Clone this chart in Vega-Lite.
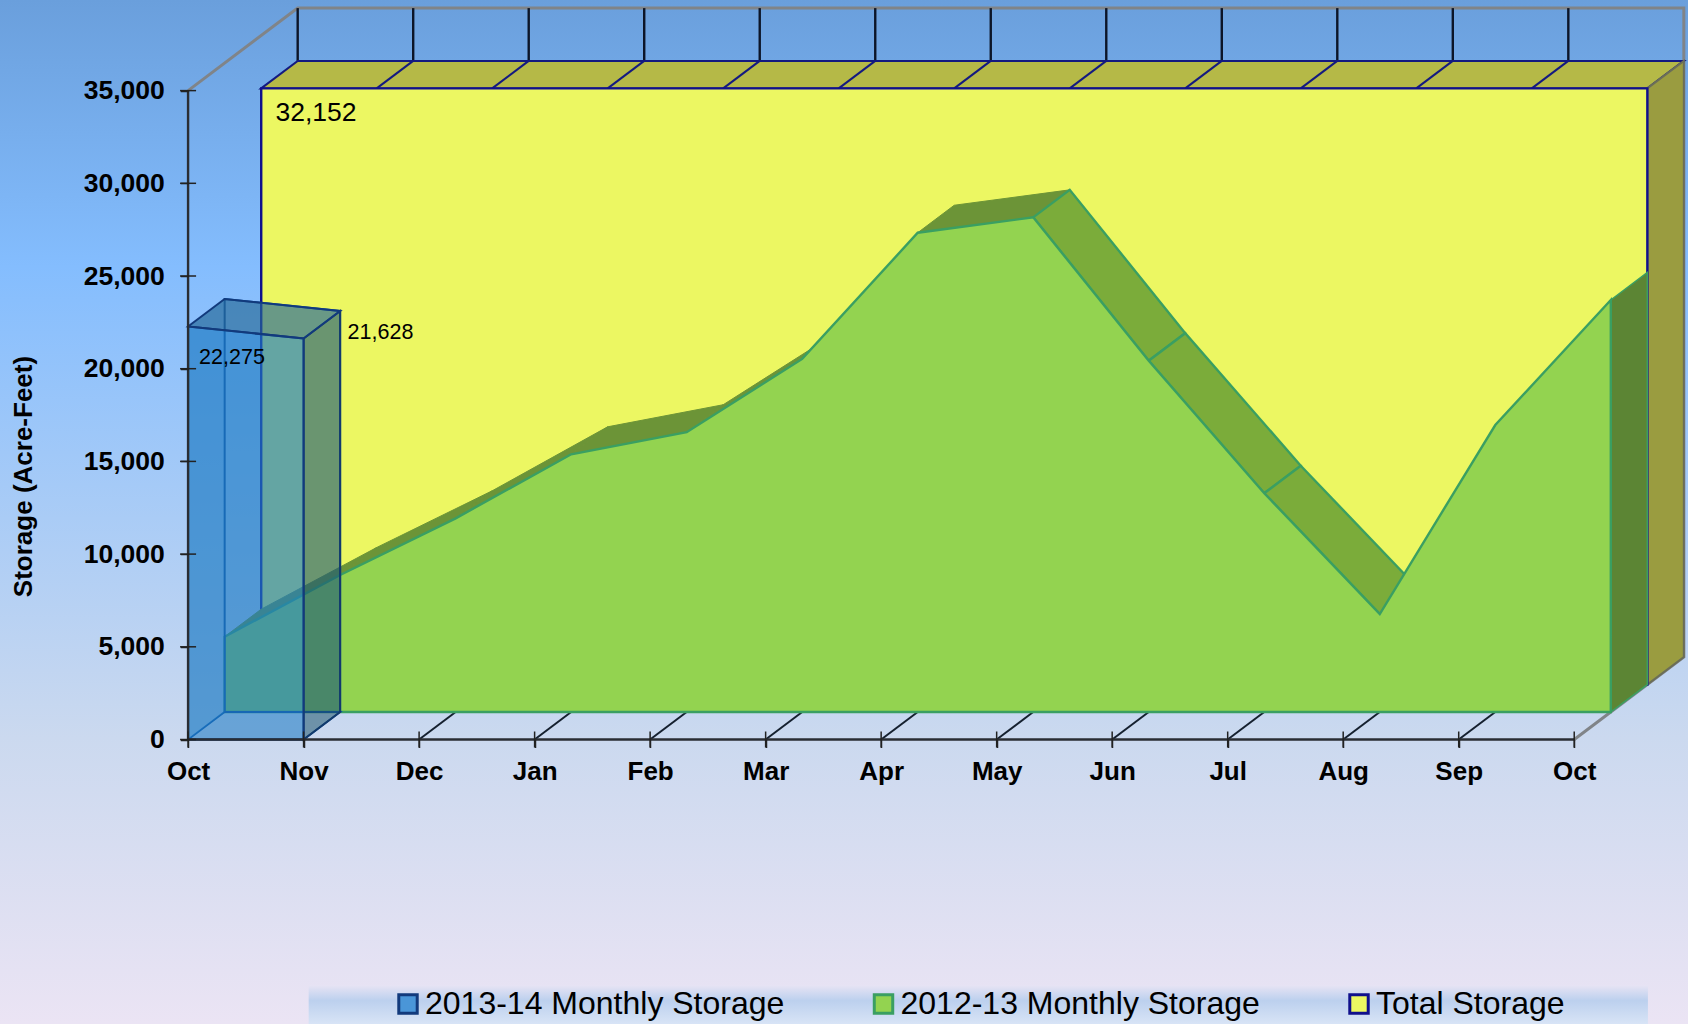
{"$schema":"https://vega.github.io/schema/vega-lite/v6.json","width":1690,"height":1024,"padding":0,"autosize":{"type":"fit","contains":"padding"},
"view":{"stroke":null,"fill":{"gradient":"linear","x1":0,"y1":0,"x2":0,"y2":1,"stops":[{"offset":0,"color":"#6a9fdc"},{"offset":0.26,"color":"#84bdfe"},{"offset":0.72,"color":"#cbd9ef"},{"offset":1,"color":"#ebe4f4"}]}},
"config":{"font":"Liberation Sans"},
"datasets":{
"ridgeUp":[
{"poly":"s0","k":0,"month":0.3163,"storage":5544.3},{"poly":"s0","k":1,"month":1.3163,"storage":8872.3},{"poly":"s0","k":2,"month":1.6326,"storage":10355.6},{"poly":"s0","k":3,"month":0.6326,"storage":7027.6},
{"poly":"s1","k":0,"month":1.3163,"storage":8872.3},{"poly":"s1","k":1,"month":2.3163,"storage":11930.3},{"poly":"s1","k":2,"month":2.6326,"storage":13413.6},{"poly":"s1","k":3,"month":1.6326,"storage":10355.6},
{"poly":"s2","k":0,"month":2.3163,"storage":11930.3},{"poly":"s2","k":1,"month":3.3163,"storage":15383.3},{"poly":"s2","k":2,"month":3.6326,"storage":16866.6},{"poly":"s2","k":3,"month":2.6326,"storage":13413.6},
{"poly":"s3","k":0,"month":3.3163,"storage":15383.3},{"poly":"s3","k":1,"month":4.3163,"storage":16573.3},{"poly":"s3","k":2,"month":4.6326,"storage":18056.6},{"poly":"s3","k":3,"month":3.6326,"storage":16866.6},
{"poly":"s4","k":0,"month":4.3163,"storage":16573.3},{"poly":"s4","k":1,"month":5.3163,"storage":20528.3},{"poly":"s4","k":2,"month":5.6326,"storage":22011.6},{"poly":"s4","k":3,"month":4.6326,"storage":18056.6},
{"poly":"s6","k":0,"month":6.3163,"storage":27333.3},{"poly":"s6","k":1,"month":7.3163,"storage":28163.3},{"poly":"s6","k":2,"month":7.6326,"storage":29646.6},{"poly":"s6","k":3,"month":6.6326,"storage":28816.6}],
"ridgeDown":[
{"poly":"s7","k":0,"month":7.3163,"storage":28163.3},{"poly":"s7","k":1,"month":8.3163,"storage":20433.3},{"poly":"s7","k":2,"month":8.6326,"storage":21916.6},{"poly":"s7","k":3,"month":7.6326,"storage":29646.6},
{"poly":"s8","k":0,"month":8.3163,"storage":20433.3},{"poly":"s8","k":1,"month":9.3163,"storage":13283.3},{"poly":"s8","k":2,"month":9.6326,"storage":14766.6},{"poly":"s8","k":3,"month":8.6326,"storage":21916.6},
{"poly":"s9","k":0,"month":9.3163,"storage":13283.3},{"poly":"s9","k":1,"month":10.3163,"storage":6769.3},{"poly":"s9","k":2,"month":10.6326,"storage":8252.6},{"poly":"s9","k":3,"month":9.6326,"storage":14766.6}],
"endCap":[{"poly":"c","k":0,"month":12.3163,"storage":23705.3},{"poly":"c","k":1,"month":12.6326,"storage":25188.6},{"poly":"c","k":2,"month":12.6326,"storage":2966.6},{"poly":"c","k":3,"month":12.3163,"storage":1483.3}],
"topFace":[{"poly":"t","k":0,"month":0.6326,"storage":35118.6},{"poly":"t","k":1,"month":0.9489,"storage":36601.9},{"poly":"t","k":2,"month":12.9489,"storage":36601.9},{"poly":"t","k":3,"month":12.6326,"storage":35118.6}],
"sideFace":[{"poly":"r","k":0,"month":12.6326,"storage":35118.6},{"poly":"r","k":1,"month":12.9489,"storage":36601.9},{"poly":"r","k":2,"month":12.9489,"storage":4449.9},{"poly":"r","k":3,"month":12.6326,"storage":2966.6}],
"topDiag":[
{"poly":"1","k":0,"month":1.6326,"storage":35118.6},{"poly":"1","k":1,"month":1.9489,"storage":36601.9},{"poly":"2","k":0,"month":2.6326,"storage":35118.6},{"poly":"2","k":1,"month":2.9489,"storage":36601.9},{"poly":"3","k":0,"month":3.6326,"storage":35118.6},{"poly":"3","k":1,"month":3.9489,"storage":36601.9},{"poly":"4","k":0,"month":4.6326,"storage":35118.6},{"poly":"4","k":1,"month":4.9489,"storage":36601.9},{"poly":"5","k":0,"month":5.6326,"storage":35118.6},{"poly":"5","k":1,"month":5.9489,"storage":36601.9},{"poly":"6","k":0,"month":6.6326,"storage":35118.6},{"poly":"6","k":1,"month":6.9489,"storage":36601.9},{"poly":"7","k":0,"month":7.6326,"storage":35118.6},{"poly":"7","k":1,"month":7.9489,"storage":36601.9},{"poly":"8","k":0,"month":8.6326,"storage":35118.6},{"poly":"8","k":1,"month":8.9489,"storage":36601.9},{"poly":"9","k":0,"month":9.6326,"storage":35118.6},{"poly":"9","k":1,"month":9.9489,"storage":36601.9},{"poly":"10","k":0,"month":10.6326,"storage":35118.6},{"poly":"10","k":1,"month":10.9489,"storage":36601.9},{"poly":"11","k":0,"month":11.6326,"storage":35118.6},{"poly":"11","k":1,"month":11.9489,"storage":36601.9}],
"backTicks":[
{"poly":"0","k":0,"month":0.9489,"storage":36601.9},{"poly":"0","k":1,"month":0.9489,"storage":39450},{"poly":"1","k":0,"month":1.9489,"storage":36601.9},{"poly":"1","k":1,"month":1.9489,"storage":39450},{"poly":"2","k":0,"month":2.9489,"storage":36601.9},{"poly":"2","k":1,"month":2.9489,"storage":39450},{"poly":"3","k":0,"month":3.9489,"storage":36601.9},{"poly":"3","k":1,"month":3.9489,"storage":39450},{"poly":"4","k":0,"month":4.9489,"storage":36601.9},{"poly":"4","k":1,"month":4.9489,"storage":39450},{"poly":"5","k":0,"month":5.9489,"storage":36601.9},{"poly":"5","k":1,"month":5.9489,"storage":39450},{"poly":"6","k":0,"month":6.9489,"storage":36601.9},{"poly":"6","k":1,"month":6.9489,"storage":39450},{"poly":"7","k":0,"month":7.9489,"storage":36601.9},{"poly":"7","k":1,"month":7.9489,"storage":39450},{"poly":"8","k":0,"month":8.9489,"storage":36601.9},{"poly":"8","k":1,"month":8.9489,"storage":39450},{"poly":"9","k":0,"month":9.9489,"storage":36601.9},{"poly":"9","k":1,"month":9.9489,"storage":39450},{"poly":"10","k":0,"month":10.9489,"storage":36601.9},{"poly":"10","k":1,"month":10.9489,"storage":39450},{"poly":"11","k":0,"month":11.9489,"storage":36601.9},{"poly":"11","k":1,"month":11.9489,"storage":39450}],
"floorDiag":[
{"poly":"2","k":0,"month":2,"storage":0},{"poly":"2","k":1,"month":2.3163,"storage":1483.3},{"poly":"3","k":0,"month":3,"storage":0},{"poly":"3","k":1,"month":3.3163,"storage":1483.3},{"poly":"4","k":0,"month":4,"storage":0},{"poly":"4","k":1,"month":4.3163,"storage":1483.3},{"poly":"5","k":0,"month":5,"storage":0},{"poly":"5","k":1,"month":5.3163,"storage":1483.3},{"poly":"6","k":0,"month":6,"storage":0},{"poly":"6","k":1,"month":6.3163,"storage":1483.3},{"poly":"7","k":0,"month":7,"storage":0},{"poly":"7","k":1,"month":7.3163,"storage":1483.3},{"poly":"8","k":0,"month":8,"storage":0},{"poly":"8","k":1,"month":8.3163,"storage":1483.3},{"poly":"9","k":0,"month":9,"storage":0},{"poly":"9","k":1,"month":9.3163,"storage":1483.3},{"poly":"10","k":0,"month":10,"storage":0},{"poly":"10","k":1,"month":10.3163,"storage":1483.3},{"poly":"11","k":0,"month":11,"storage":0},{"poly":"11","k":1,"month":11.3163,"storage":1483.3}],
"frame":[
{"poly":"a","k":0,"month":0,"storage":35000},{"poly":"a","k":1,"month":0.9489,"storage":39450},{"poly":"a","k":2,"month":12.9489,"storage":39450},{"poly":"a","k":3,"month":12.9489,"storage":4449.9},{"poly":"a","k":4,"month":12,"storage":0}],
"blueTop":[{"poly":"t","k":0,"month":0,"storage":22275},{"poly":"t","k":1,"month":1,"storage":21628},{"poly":"t","k":2,"month":1.3163,"storage":23111.3},{"poly":"t","k":3,"month":0.3163,"storage":23758.3}],
"blueSide":[{"poly":"s","k":0,"month":1,"storage":21628},{"poly":"s","k":1,"month":1.3163,"storage":23111.3},{"poly":"s","k":2,"month":1.3163,"storage":1483.3},{"poly":"s","k":3,"month":1,"storage":0}],
"blueLeft":[{"poly":"l","k":0,"month":0,"storage":22275},{"poly":"l","k":1,"month":0.3163,"storage":23758.3},{"poly":"l","k":2,"month":0.3163,"storage":1483.3},{"poly":"l","k":3,"month":0,"storage":0}],
"blueFloor":[{"poly":"f","k":0,"month":0,"storage":0},{"poly":"f","k":1,"month":1,"storage":0},{"poly":"f","k":2,"month":1.3163,"storage":1483.3},{"poly":"f","k":3,"month":0.3163,"storage":1483.3}],
"blue":[{"series":"2013-14 Monthly Storage","month":0,"storage":22275},{"series":"2013-14 Monthly Storage","month":1,"storage":21628}],
"green":[{"series":"2012-13 Monthly Storage","month":0,"storage":4061},{"series":"2012-13 Monthly Storage","month":1,"storage":7389},{"series":"2012-13 Monthly Storage","month":2,"storage":10447},{"series":"2012-13 Monthly Storage","month":3,"storage":13900},{"series":"2012-13 Monthly Storage","month":4,"storage":15090},{"series":"2012-13 Monthly Storage","month":5,"storage":19045},{"series":"2012-13 Monthly Storage","month":6,"storage":25850},{"series":"2012-13 Monthly Storage","month":7,"storage":26680},{"series":"2012-13 Monthly Storage","month":8,"storage":18950},{"series":"2012-13 Monthly Storage","month":9,"storage":11800},{"series":"2012-13 Monthly Storage","month":10,"storage":5286},{"series":"2012-13 Monthly Storage","month":11,"storage":15480},{"series":"2012-13 Monthly Storage","month":12,"storage":22222}],
"total":[{"series":"Total Storage","month":0,"storage":32152},{"series":"Total Storage","month":12,"storage":32152}],
"yTicks":[{"month":0,"storage":0},{"month":0,"storage":5000},{"month":0,"storage":10000},{"month":0,"storage":15000},{"month":0,"storage":20000},{"month":0,"storage":25000},{"month":0,"storage":30000},{"month":0,"storage":35000}],
"xTicks":[{"month":0,"storage":0},{"month":1,"storage":0},{"month":2,"storage":0},{"month":3,"storage":0},{"month":4,"storage":0},{"month":5,"storage":0},{"month":6,"storage":0},{"month":7,"storage":0},{"month":8,"storage":0},{"month":9,"storage":0},{"month":10,"storage":0},{"month":11,"storage":0},{"month":12,"storage":0}],
"axisLines":[{"poly":"y","k":0,"month":0,"storage":0},{"poly":"y","k":1,"month":0,"storage":35000},{"poly":"x","k":0,"month":0,"storage":0},{"poly":"x","k":1,"month":12,"storage":0}],
"legendBand":[{"month":1.044,"month2":12.638,"storage":-13241,"storage2":-15345}]
},
"encoding":{
"x":{"field":"month","type":"quantitative","scale":{"domain":[-1.6282,12.985],"nice":false,"zero":false},
"axis":{"orient":"bottom","offset":-284.5,"values":[0,1,2,3,4,5,6,7,8,9,10,11,12],"labelExpr":"['Oct','Nov','Dec','Jan','Feb','Mar','Apr','May','Jun','Jul','Aug','Sep','Oct'][datum.value]","title":null,"grid":false,"domain":false,"tickSize":8,"tickColor":"#222222","tickWidth":1.5,"labelFont":"Liberation Sans","labelFontWeight":"bold","labelFontSize":26,"labelColor":"#000000","labelPadding":11,"labelOverlap":false,"labelFlush":false,"zindex":1}},
"y":{"field":"storage","type":"quantitative","scale":{"domain":[-15345,39887],"nice":false,"zero":false},
"axis":{"orient":"left","offset":-188.3,"values":[0,5000,10000,15000,20000,25000,30000,35000],"labelExpr":"format(datum.value, ',')","title":"Storage (Acre-Feet)","titleFont":"Liberation Sans","titleFontWeight":"bold","titleFontSize":26,"titleColor":"#000000","titleAngle":-90,"titleX":-165,"titleY":476,"titleAlign":"center","titleBaseline":"middle","grid":false,"domain":false,"tickSize":8,"tickColor":"#222222","tickWidth":1.5,"labelFont":"Liberation Sans","labelFontWeight":"bold","labelFontSize":26.5,"labelColor":"#000000","labelPadding":16,"labelOverlap":false,"labelFlush":false,"zindex":1}}
},
"layer":[
{"data":{"name":"legendBand"},"mark":{"type":"rect","color":{"gradient":"linear","x1":0,"y1":0,"x2":0,"y2":1,"stops":[{"offset":0,"color":"#e8e4f4"},{"offset":0.4,"color":"#bcd0ee"},{"offset":1,"color":"#d8e4f6"}]}},"encoding":{"x2":{"field":"month2"},"y2":{"field":"storage2"}}},
{"data":{"name":"frame"},"mark":{"type":"line","stroke":"#808488","strokeWidth":3},"encoding":{"detail":{"field":"poly"},"order":{"field":"k"}}},
{"data":{"name":"backTicks"},"mark":{"type":"line","stroke":"#0c1528","strokeWidth":2.4},"encoding":{"detail":{"field":"poly"},"order":{"field":"k"}}},
{"data":{"name":"floorDiag"},"mark":{"type":"line","stroke":"#15202f","strokeWidth":2},"encoding":{"detail":{"field":"poly"},"order":{"field":"k"}}},
{"data":{"name":"topFace"},"mark":{"type":"line","interpolate":"linear-closed","fill":"#b5b947","stroke":"#141a80","strokeWidth":2},"encoding":{"detail":{"field":"poly"},"order":{"field":"k"}}},
{"data":{"name":"sideFace"},"mark":{"type":"line","interpolate":"linear-closed","fill":"#9a9c40","stroke":"#6b6e58","strokeWidth":2},"encoding":{"detail":{"field":"poly"},"order":{"field":"k"}}},
{"data":{"name":"topDiag"},"mark":{"type":"line","stroke":"#141a80","strokeWidth":2},"encoding":{"detail":{"field":"poly"},"order":{"field":"k"}}},
{"data":{"name":"total"},"mark":{"type":"area","xOffset":73.14,"yOffset":-55,"y2Offset":-55,"strokeWidth":2.4},"encoding":{"y2":{"datum":0},
"fill":{"field":"series","type":"nominal","scale":{"domain":["2013-14 Monthly Storage","2012-13 Monthly Storage","Total Storage"],"range":["#4a96d8","#93d350","#ecf762"]},"legend":{"title":null,"orient":"none","legendX":392,"legendY":988,"direction":"horizontal","columns":3,"columnPadding":82.5,"symbolType":"square","symbolSize":340,"symbolStrokeWidth":3,"symbolOpacity":1,"labelFont":"Liberation Sans","labelFontSize":32,"labelColor":"#000000","labelOffset":1,"labelLimit":600,"padding":0}},
"stroke":{"field":"series","type":"nominal","scale":{"domain":["2013-14 Monthly Storage","2012-13 Monthly Storage","Total Storage"],"range":["#123a7c","#3a9f62","#10108c"]},"legend":{"title":null,"orient":"none","legendX":392,"legendY":988,"direction":"horizontal","columns":3,"columnPadding":82.5,"symbolType":"square","symbolSize":340,"symbolStrokeWidth":3,"symbolOpacity":1,"labelFont":"Liberation Sans","labelFontSize":32,"labelColor":"#000000","labelOffset":1,"labelLimit":600,"padding":0}}}},
{"data":{"name":"endCap"},"mark":{"type":"line","interpolate":"linear-closed","fill":"#5c8534","stroke":"#3a9f62","strokeWidth":1.5},"encoding":{"detail":{"field":"poly"},"order":{"field":"k"}}},
{"data":{"name":"ridgeUp"},"mark":{"type":"line","interpolate":"linear-closed","fill":"#6c9437","stroke":"#6c9437","strokeWidth":1},"encoding":{"detail":{"field":"poly"},"order":{"field":"k"}}},
{"data":{"name":"ridgeDown"},"mark":{"type":"line","interpolate":"linear-closed","fill":"#7bac3a","stroke":"#3a9f62","strokeWidth":2.4},"encoding":{"detail":{"field":"poly"},"order":{"field":"k"}}},
{"data":{"name":"green"},"mark":{"type":"area","xOffset":36.57,"yOffset":-27.5,"y2Offset":-27.5,"strokeWidth":2.4},"encoding":{"y2":{"datum":0},"fill":{"field":"series","type":"nominal"},"stroke":{"field":"series","type":"nominal"}}},
{"data":{"name":"blueFloor"},"mark":{"type":"line","interpolate":"linear-closed","fill":"#1f7cc4","fillOpacity":0.05,"stroke":"#0d55a8","strokeWidth":1.8},"encoding":{"detail":{"field":"poly"},"order":{"field":"k"}}},
{"data":{"name":"blue"},"mark":{"type":"area","xOffset":36.57,"yOffset":-27.5,"y2Offset":-27.5,"fillOpacity":0.25,"strokeWidth":2},"encoding":{"y2":{"datum":0},"fill":{"value":"#1f7cc4"},"stroke":{"value":"#0d4fa0"}}},
{"data":{"name":"blueLeft"},"mark":{"type":"line","interpolate":"linear-closed","fill":"#1f7cc4","fillOpacity":0.3,"stroke":"#0d4fa0","strokeOpacity":0,"strokeWidth":1},"encoding":{"detail":{"field":"poly"},"order":{"field":"k"}}},
{"data":{"name":"blueSide"},"mark":{"type":"line","interpolate":"linear-closed","fill":"#1b5166","fillOpacity":0.5,"stroke":"#123a6c","strokeWidth":2},"encoding":{"detail":{"field":"poly"},"order":{"field":"k"}}},
{"data":{"name":"blueTop"},"mark":{"type":"line","interpolate":"linear-closed","fill":"#286690","fillOpacity":0.55,"stroke":"#123a7c","strokeWidth":2},"encoding":{"detail":{"field":"poly"},"order":{"field":"k"}}},
{"data":{"name":"blue"},"mark":{"type":"area","fillOpacity":0.55,"strokeWidth":2},"encoding":{"y2":{"datum":0},"fill":{"value":"#1f7cc4"},"stroke":{"field":"series","type":"nominal"}}},
{"data":{"name":"axisLines"},"mark":{"type":"line","stroke":"#2a2d33","strokeWidth":2.4},"encoding":{"detail":{"field":"poly"},"order":{"field":"k"}}},
{"data":{"name":"yTicks"},"mark":{"type":"tick","orient":"horizontal","size":16,"thickness":1.5,"color":"#222222","opacity":1}},
{"data":{"name":"xTicks"},"mark":{"type":"tick","orient":"vertical","size":16,"thickness":1.5,"color":"#222222","opacity":1}},
{"data":{"values":[{"month":0,"storage":32152}]},"mark":{"type":"text","align":"left","baseline":"middle","dx":87.4,"dy":-30.4,"fontSize":26.5,"font":"Liberation Sans","color":"#000000"},"encoding":{"text":{"field":"storage","type":"quantitative","format":","}}},
{"data":{"values":[{"month":0,"storage":22275}]},"mark":{"type":"text","align":"left","baseline":"middle","dx":11,"dy":31,"fontSize":21.5,"font":"Liberation Sans","color":"#000000"},"encoding":{"text":{"field":"storage","type":"quantitative","format":","}}},
{"data":{"values":[{"month":1,"storage":21628}]},"mark":{"type":"text","align":"left","baseline":"middle","dx":44,"dy":-5.5,"fontSize":21.5,"font":"Liberation Sans","color":"#000000"},"encoding":{"text":{"field":"storage","type":"quantitative","format":","}}}
],
"resolve":{"scale":{"x":"shared","y":"shared"}}
}
